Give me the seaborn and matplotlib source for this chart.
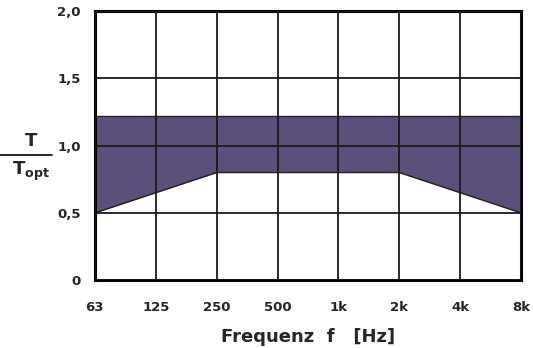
import matplotlib
matplotlib.use("Agg")
import matplotlib.pyplot as plt
import seaborn as sns
import numpy as np
import pandas as pd

# Octave band centre frequencies and tolerance band for T / T_opt
freq_labels = ["63", "125", "250", "500", "1k", "2k", "4k", "8k"]
lower_limit = [0.5, 0.65, 0.8, 0.8, 0.8, 0.8, 0.65, 0.5]
upper_limit = [1.22, 1.22, 1.22, 1.22, 1.22, 1.22, 1.22, 1.22]
y_ticks = [0, 0.5, 1.0, 1.5, 2.0]
y_tick_labels = ["0", "0,5", "1,0", "1,5", "2,0"]

sns.set_style("white")
plt.rcParams["font.family"] = ["DejaVu Sans"]

df = pd.DataFrame({
    "pos": np.arange(len(freq_labels)),
    "lower": lower_limit,
    "upper": upper_limit,
})

fig = plt.figure(figsize=(5.33, 3.48), dpi=100)
ax = fig.add_axes([0.178, 0.195, 0.7995, 0.773])

band_color = "#5d4f7b"
ax.fill_between(df["pos"], df["lower"], df["upper"], color=band_color, zorder=1, linewidth=0)
sns.lineplot(data=df, x="pos", y="lower", ax=ax, color="#222222", linewidth=1.0, zorder=2)
sns.lineplot(data=df, x="pos", y="upper", ax=ax, color="#222222", linewidth=1.0, zorder=2)

ax.set_xlim(0, len(freq_labels) - 1)
ax.set_ylim(0, 2.0)
ax.set_xticks(df["pos"])
ax.set_xticklabels(freq_labels, fontsize=9.5, fontweight="bold")
ax.set_yticks(y_ticks)
ax.set_yticklabels(y_tick_labels, fontsize=9.5, fontweight="bold")
ax.tick_params(axis="x", length=0, pad=15)
ax.tick_params(axis="y", length=0, pad=10)

ax.grid(True, color="#1a1a1a", linewidth=1.3, zorder=3)
ax.set_axisbelow(False)
for spine in ax.spines.values():
    spine.set_visible(True)
    spine.set_color("black")
    spine.set_linewidth(2.2)

ax.set_xlabel("Frequenz  f   [Hz]", fontsize=13, fontweight="bold", labelpad=10)
ax.set_ylabel("")

# Fraction-style y label: T over T_opt
fig.text(0.058, 0.568, "T", fontsize=13, fontweight="bold", ha="center", va="bottom")
fig.add_artist(plt.Line2D([0.0, 0.098], [0.555, 0.555], color="black", linewidth=1.2,
                          transform=fig.transFigure))
fig.text(0.058, 0.542, r"T$_{\mathbf{opt}}$", fontsize=13, fontweight="bold", ha="center", va="top")

fig.savefig("out.png", dpi=100)
